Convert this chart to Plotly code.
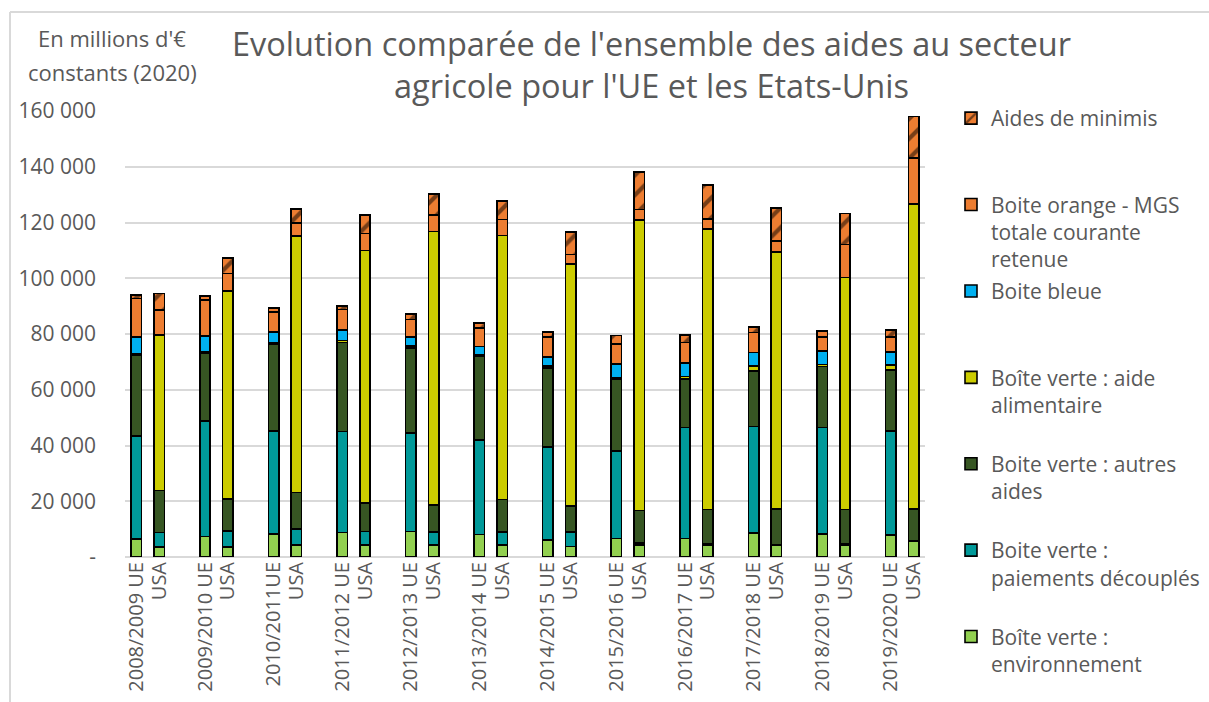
import plotly.graph_objects as go

# ── Data (millions d'€ constants 2020) ────────────────────────────────────────
years = ["2008/2009", "2009/2010", "2010/2011", "2011/2012", "2012/2013", "2013/2014",
         "2014/2015", "2015/2016", "2016/2017", "2017/2018", "2018/2019", "2019/2020"]
ue_labels = ["2008/2009 UE", "2009/2010 UE", "2010/2011UE", "2011/2012 UE", "2012/2013 UE",
             "2013/2014 UE", "2014/2015 UE", "2015/2016 UE", "2016/2017 UE", "2017/2018 UE",
             "2018/2019 UE", "2019/2020 UE"]
usa_label = "USA"

ue_env     = [6500, 7300, 8200, 8800, 9200, 8100, 6100, 6700, 6700, 8600, 8200, 8000]
ue_dec     = [37000, 41500, 37000, 36200, 35200, 33900, 33300, 31400, 39800, 38200, 38200, 37200]
ue_autres  = [29000, 24300, 31300, 31900, 30600, 30100, 28300, 25700, 17400, 19900, 21900, 21800]
ue_alim    = [400, 400, 400, 700, 700, 400, 900, 600, 800, 1800, 800, 1800]
ue_bleue   = [6100, 5800, 3800, 3800, 3300, 3000, 3200, 4800, 5000, 4800, 4800, 4800]
ue_orange  = [13700, 12900, 7200, 7400, 6200, 6600, 7200, 7300, 7300, 7200, 5100, 5400]
ue_minimis = [1200, 1500, 1500, 1200, 1900, 1800, 1800, 3000, 2600, 2100, 2100, 2400]

usa_env     = [3500, 3500, 4400, 4200, 4400, 4200, 3800, 4400, 4200, 4100, 4200, 5500]
usa_dec     = [5300, 5900, 5700, 4900, 4500, 4800, 5100, 600, 600, 300, 500, 300]
usa_autres  = [15000, 11500, 13100, 10300, 9800, 11600, 9400, 11700, 12200, 12800, 12300, 11400]
usa_alim    = [55800, 74600, 92000, 90500, 98100, 94800, 86900, 104100, 100600, 92300, 83300, 109400]
usa_bleue   = [0] * 12
usa_orange  = [9000, 6200, 4600, 6200, 6000, 5700, 3300, 3800, 3700, 3800, 11800, 16600]
usa_minimis = [6000, 5600, 5000, 6600, 7500, 6700, 8000, 13500, 12100, 11900, 11100, 14900]

y_ticks = [0, 20000, 40000, 60000, 80000, 100000, 120000, 140000, 160000]
y_ticktext = ["-", "20 000", "40 000", "60 000", "80 000", "100 000", "120 000", "140 000", "160 000"]

# ── Series (bottom to top) ────────────────────────────────────────────────────
series = [
    ("Boîte verte :<br>environnement", ue_env, usa_env, "#92D050", None),
    ("Boite verte :<br>paiements découplés", ue_dec, usa_dec, "#009999", None),
    ("Boite verte : autres<br>aides", ue_autres, usa_autres, "#375623", None),
    ("Boîte verte : aide<br>alimentaire", ue_alim, usa_alim, "#CCCC00", None),
    ("Boite bleue", ue_bleue, usa_bleue, "#00B0F0", None),
    ("Boite orange - MGS<br>totale courante<br>retenue", ue_orange, usa_orange, "#ED7D31", None),
    ("Aides de minimis", ue_minimis, usa_minimis, "#ED7D31", "/"),
]

# each year: UE slot, USA slot, empty slot
x_pos, tick_vals, tick_text = [], [], []
for i in range(len(years)):
    x_pos += [3 * i, 3 * i + 1]
    tick_vals += [3 * i, 3 * i + 1]
    tick_text += [ue_labels[i], usa_label]

FONT = "Open Sans"
GREY = "#595959"

# plot area in pixels
L, R, T, B = 125, 925, 111, 557
PW, PH = R - L, B - T


def px_x(x):
    return (x - L) / PW


def px_y(y):
    return (B - y) / PH


fig = go.Figure()
for k, (name, ue, usa, color, pat) in enumerate(series):
    vals = []
    for a, b in zip(ue, usa):
        vals += [a, b]
    # pad every legend entry to 3 lines so the entries are evenly spaced
    nlines = name.count("<br>") + 1
    label = name + "<br> " * (3 - nlines)
    marker = dict(color=color, line=dict(color="black", width=1.6))
    if pat:
        marker["pattern"] = dict(shape=pat, fgcolor="black", bgcolor=color,
                                 size=14, solidity=0.3, fillmode="overlay")
    fig.add_trace(go.Bar(
        x=x_pos, y=vals, name=label, width=0.46, marker=marker,
        legendgroup=f"g{k}", legendrank=(len(series) - k) * 100,
        hoverinfo="skip",
    ))

fig.update_layout(
    barmode="stack",
    width=1209, height=702,
    paper_bgcolor="white", plot_bgcolor="white",
    margin=dict(l=L, r=1209 - R, t=T, b=702 - B, autoexpand=False),
    font=dict(family=FONT, color=GREY),
    xaxis=dict(
        range=[-0.5, 34.5], tickmode="array", tickvals=tick_vals, ticktext=tick_text,
        tickangle=-90, tickfont=dict(size=20, color=GREY), showgrid=False,
        zeroline=False, showline=False, ticks="", automargin=False,
    ),
    yaxis=dict(
        range=[0, 160000], tickmode="array", tickvals=y_ticks, ticktext=y_ticktext,
        tickfont=dict(size=21, color=GREY), showgrid=True, gridcolor="#D9D9D9",
        gridwidth=1.5, zeroline=True, zerolinecolor="#D9D9D9", zerolinewidth=1.5,
        ticklabelstandoff=28, automargin=False,
    ),
    legend=dict(
        x=px_x(951), xanchor="left", y=px_y(98), yanchor="top", valign="top",
        font=dict(size=21, color=GREY), tracegroupgap=1.5, itemwidth=30,
        traceorder="grouped", bgcolor="rgba(0,0,0,0)", maxheight=700,
    ),
    annotations=[
        dict(text="Evolution comparée de l'ensemble des aides au secteur<br>agricole pour l'UE et les Etats-Unis",
             xref="paper", yref="paper", x=px_x(651), y=px_y(64),
             xanchor="center", yanchor="middle", showarrow=False,
             font=dict(size=32.5, color=GREY)),
        dict(text="En millions d'€", xref="paper", yref="paper",
             x=px_x(112), y=px_y(38), xanchor="center", yanchor="middle",
             showarrow=False, font=dict(size=22, color=GREY)),
        dict(text="constants (2020)", xref="paper", yref="paper",
             x=px_x(112), y=px_y(72), xanchor="center", yanchor="middle",
             showarrow=False, font=dict(size=22, color=GREY)),
    ],
    shapes=[
        dict(type="line", xref="paper", yref="paper",
             x0=px_x(10), x1=px_x(1209), y0=px_y(12), y1=px_y(12),
             line=dict(color="#D9D9D9", width=2)),
        dict(type="line", xref="paper", yref="paper",
             x0=px_x(10), x1=px_x(10), y0=px_y(12), y1=px_y(702),
             line=dict(color="#D9D9D9", width=2)),
    ],
)

# the page body has a default 8px margin: drop it so the figure sits at (0, 0)
fig.write_html("out.html", config={"displayModeBar": False},
               post_script="document.body.style.margin = '0';")
